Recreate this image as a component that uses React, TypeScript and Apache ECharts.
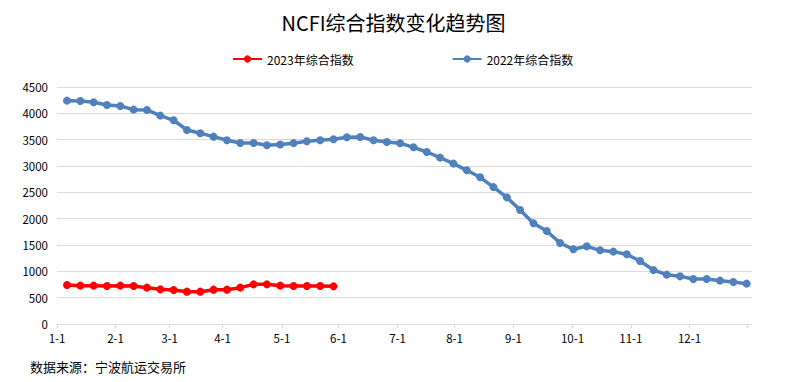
import React, { useEffect, useRef } from "react";
import * as echarts from "echarts";

// Weekly NCFI composite index values (week index 0 = first Friday of January)
const series2022Name = "2022年综合指数";
const series2023Name = "2023年综合指数";

const values2022 = [
  4241, 4235, 4210, 4159, 4140, 4070, 4064, 3956, 3868, 3684,
  3621, 3557, 3488, 3437, 3437, 3393, 3409, 3434, 3469, 3488,
  3507, 3545, 3551, 3488, 3456, 3431, 3355, 3266, 3159, 3045,
  2918, 2785, 2599, 2405, 2165, 1912, 1766, 1538, 1418, 1475,
  1399, 1374, 1323, 1196, 1025, 937, 905, 855, 855, 823,
  798, 766,
];

const values2023 = [
  741, 728, 728, 722, 728, 722, 690, 658, 646, 614,
  614, 652, 652, 690, 753, 753, 728, 722, 722, 722,
  715,
];

// Month tick positions on the week scale, and their labels
const monthTickPos = [-0.75, 3.645, 7.697, 11.67, 16.13, 20.37, 24.8, 29.08, 33.5, 37.93, 42.31, 46.71, 51.05];
const monthTickLabels = ["1-1", "2-1", "3-1", "4-1", "5-1", "6-1", "7-1", "8-1", "9-1", "10-1", "11-1", "12-1", ""];

const yTicks = { min: 0, max: 4500, interval: 500 };

const titleText = "NCFI综合指数变化趋势图";
const sourceText = "数据来源：宁波航运交易所";

const FONT = "'Microsoft YaHei', 'Noto Sans CJK SC', sans-serif";

export default function App() {
  const ref = useRef<HTMLDivElement>(null);

  useEffect(() => {
    if (!ref.current) return;
    const chart = echarts.init(ref.current, null, { renderer: "svg" });
    const pts2022 = values2022.map((v, i) => [i, v]);
    const pts2023 = values2023.map((v, i) => [i, v]);
    chart.setOption({
      animation: false,
      backgroundColor: "#ffffff",
      textStyle: { fontFamily: FONT },
      title: {
        text: titleText,
        left: "center",
        top: 7,
        textStyle: { fontSize: 20, fontWeight: "normal", color: "#000", fontFamily: FONT },
      },
      legend: {
        top: 48,
        left: 227,
        itemGap: 98,
        itemWidth: 29,
        itemHeight: 9,
        textStyle: { fontSize: 12, color: "#000", fontFamily: FONT },
        data: [series2023Name, series2022Name],
      },
      grid: { left: 57, right: 35, top: 87, bottom: 58, containLabel: false },
      xAxis: {
        type: "value",
        min: -0.75,
        max: 51.4,
        splitLine: { show: false },
        axisLine: { show: true, lineStyle: { color: "#d9d9d9", width: 1 } },
        axisTick: { show: true, length: 4, customValues: monthTickPos, lineStyle: { color: "#d9d9d9" } },
        axisLabel: {
          customValues: monthTickPos,
          margin: 8,
          fontSize: 11.5,
          color: "#000",
          fontFamily: FONT,
          formatter: (val: number) => {
            const idx = monthTickPos.findIndex((p) => Math.abs(p - val) < 1e-6);
            return idx >= 0 ? monthTickLabels[idx] : "";
          },
        },
      },
      yAxis: {
        type: "value",
        min: yTicks.min,
        max: yTicks.max,
        interval: yTicks.interval,
        axisLine: { show: false },
        axisTick: { show: false },
        splitLine: { show: true, lineStyle: { color: "#d9d9d9", width: 1 } },
        axisLabel: {
          fontSize: 11.5,
          color: "#000",
          margin: 9,
          fontFamily: FONT,
          formatter: (val: number) => String(val),
        },
      },
      graphic: [
        {
          type: "text",
          left: 30,
          top: 360,
          style: { text: sourceText, fontSize: 13, fill: "#000", fontFamily: FONT },
        },
      ],
      series: [
        {
          name: series2023Name,
          type: "line",
          data: pts2023,
          symbol: "circle",
          symbolSize: 8,
          lineStyle: { color: "#ff0000", width: 3.5 },
          itemStyle: { color: "#ff0000" },
          z: 3,
        },
        {
          name: series2022Name,
          type: "line",
          data: pts2022,
          symbol: "circle",
          symbolSize: 8,
          lineStyle: { color: "#4f81bd", width: 3.5 },
          itemStyle: { color: "#4f81bd" },
          z: 2,
        },
      ],
    });
    return () => chart.dispose();
  }, []);

  return (
    <div
      ref={ref}
      style={{ position: "absolute", left: 0, top: 0, width: 787, height: 382 }}
    />
  );
}
